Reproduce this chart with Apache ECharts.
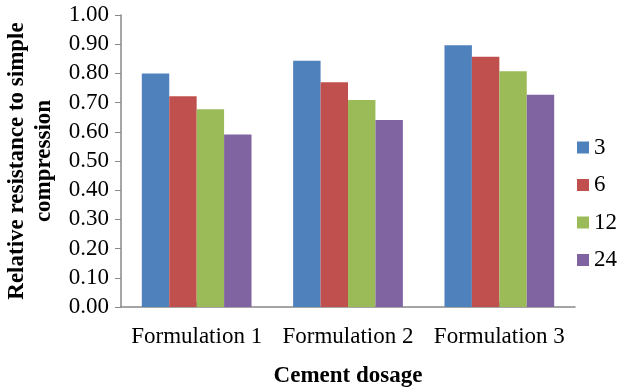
<!DOCTYPE html>
<html>
<head>
<meta charset="utf-8">
<script src="https://cdn.jsdelivr.net/npm/echarts@6/dist/echarts.min.js"></script>
<style>
  html, body { margin: 0; padding: 0; background: #fff; overflow: hidden; }
  #chart { position: absolute; left: 0; top: 0; width: 617px; height: 390px; }
</style>
</head>
<body>
<div id="chart"></div>
<script>
// Relative resistance to simple compression by formulation and curing time
const categories = ['Formulation 1', 'Formulation 2', 'Formulation 3'];
const seriesNames = ['3', '6', '12', '24'];
const values3 = [0.80, 0.843, 0.896];
const values6 = [0.722, 0.770, 0.857];
const values12 = [0.677, 0.709, 0.807];
const values24 = [0.591, 0.640, 0.727];
const colors = ['#4F81BD', '#C0504D', '#9BBB59', '#8064A2'];

const seriesValues = [values3, values6, values12, values24];
const font = "'Liberation Serif', 'Times New Roman', serif";

const chart = echarts.init(document.getElementById('chart'), null, { renderer: 'canvas' });
chart.setOption({
  animation: false,
  textStyle: { fontFamily: font },
  grid: { left: 121, right: 42, top: 15, bottom: 83, containLabel: false, outerBoundsMode: 'none' },
  legend: {
    orient: 'vertical',
    left: 572,
    top: 131,
    itemWidth: 12,
    itemHeight: 12,
    itemGap: 14.5,
    icon: 'rect',
    textStyle: { fontFamily: font, fontSize: 23, color: '#000', lineHeight: 22 },
    data: seriesNames
  },
  xAxis: {
    type: 'category',
    data: categories,
    axisLine: { lineStyle: { color: '#888', width: 1.5 } },
    axisTick: { show: true, alignWithLabel: true, inside: true, length: 5, lineStyle: { color: '#888' } },
    axisLabel: { fontFamily: font, fontSize: 23, color: '#000', margin: 18, interval: 0, hideOverlap: false },
    name: 'Cement dosage',
    nameLocation: 'middle',
    nameGap: 58,
    nameTextStyle: { fontFamily: font, fontSize: 23, fontWeight: 'bold', color: '#000' }
  },
  yAxis: {
    type: 'value',
    min: 0,
    max: 1,
    interval: 0.1,
    splitLine: { show: false },
    axisLine: { show: true, lineStyle: { color: '#888', width: 1.5 } },
    axisTick: { show: true, length: 6, lineStyle: { color: '#888' } },
    axisLabel: {
      fontFamily: font, fontSize: 23, color: '#000', margin: 12,
      formatter: v => v.toFixed(2)
    },
    name: 'Relative resistance to simple\ncompression',
    nameLocation: 'middle',
    nameGap: 56,
    nameTextStyle: { fontFamily: font, fontSize: 23, fontWeight: 'bold', color: '#000', lineHeight: 27 }
  },
  series: seriesNames.map((name, i) => ({
    name: name,
    type: 'bar',
    data: seriesValues[i],
    barGap: '0%',
    barCategoryGap: '27.5%',
    itemStyle: { color: colors[i] }
  }))
});
</script>
</body>
</html>
